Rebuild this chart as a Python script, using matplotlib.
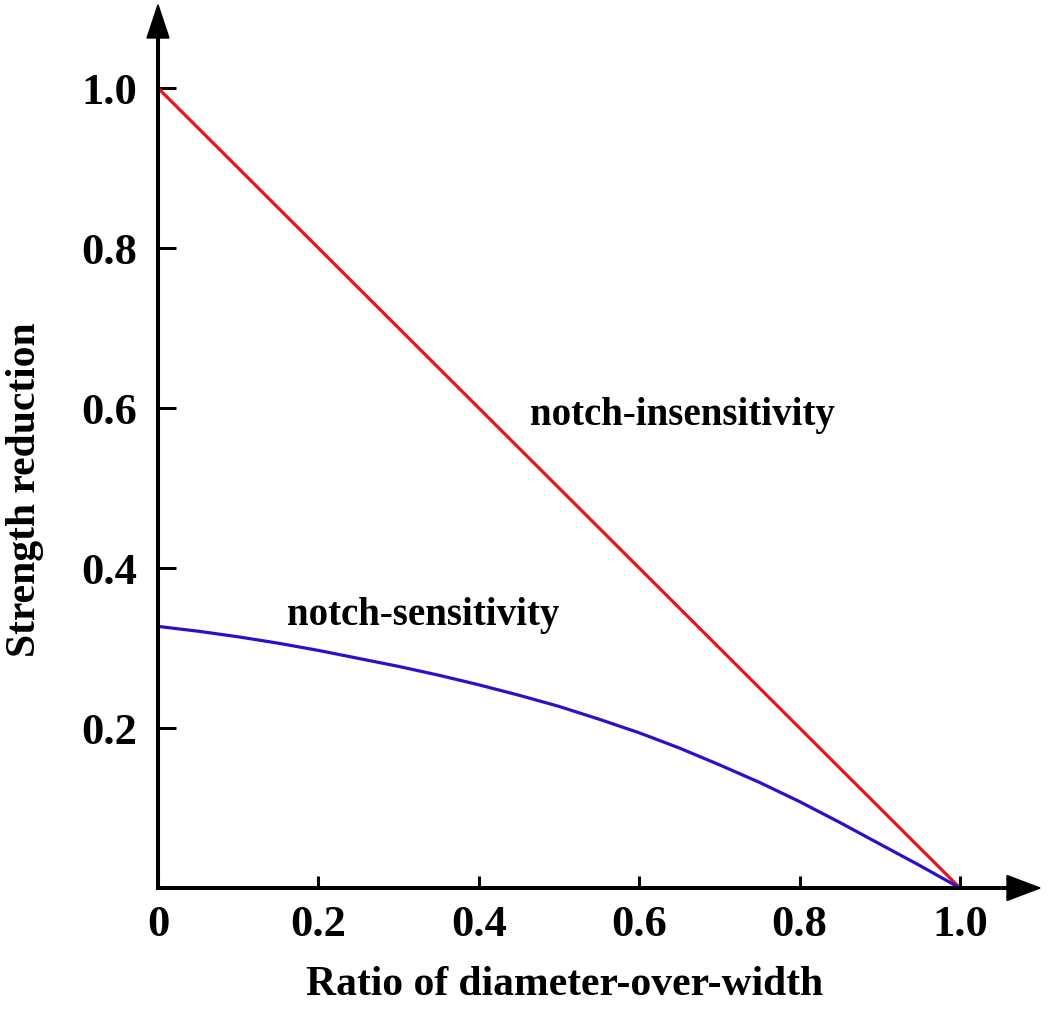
import matplotlib.pyplot as plt
from matplotlib.patches import Polygon

# data
ratio = [0.0, 1.0]
insensitive = [1.0, 0.0]
ratio_s = [0.0, 0.05, 0.1, 0.15, 0.2, 0.25, 0.3, 0.35, 0.4, 0.45, 0.5,
           0.55, 0.6, 0.65, 0.7, 0.75, 0.8, 0.85, 0.9, 0.95, 1.0]
sensitive = [0.327, 0.321, 0.314, 0.306, 0.297, 0.287, 0.277, 0.266, 0.254, 0.241, 0.227,
             0.211, 0.194, 0.175, 0.154, 0.132, 0.108, 0.082, 0.055, 0.028, 0.0]
xticks = [0, 0.2, 0.4, 0.6, 0.8, 1.0]
xticklabels = ["0", "0.2", "0.4", "0.6", "0.8", "1.0"]
yticks = [0.2, 0.4, 0.6, 0.8, 1.0]
yticklabels = ["0.2", "0.4", "0.6", "0.8", "1.0"]

plt.rcParams["font.family"] = ["Liberation Serif", "DejaVu Serif"]
plt.rcParams["font.weight"] = "bold"

fig = plt.figure(figsize=(10.5, 10.13), dpi=100)
ax = fig.add_axes([158 / 1050, 125 / 1013, 849 / 1050, 850 / 1013])

ax.plot(ratio, insensitive, color="#e8141c", lw=2.3, clip_on=False)
ax.plot(ratio_s, sensitive, color="#2a10cc", lw=2.3, clip_on=False)

ax.set_xlim(0, 1.0586)
ax.set_ylim(0, 1.0625)
for s in ["top", "right"]:
    ax.spines[s].set_visible(False)
for s in ["left", "bottom"]:
    ax.spines[s].set_linewidth(2.9)

ax.set_xticks(xticks)
ax.set_xticklabels(xticklabels)
ax.set_yticks(yticks)
ax.set_yticklabels(yticklabels)
ax.tick_params(axis="x", direction="in", length=9, width=2.2, pad=12, labelsize=32)
ax.tick_params(axis="y", direction="in", length=13, width=2.2, pad=15, labelsize=32)
for lab in ax.get_xticklabels() + ax.get_yticklabels():
    lab.set_fontweight("bold")

# arrowheads at the ends of the axes
ax.add_patch(Polygon([[1.0586, 0.0156], [1.0998, 0.0], [1.0586, -0.0156]],
                     closed=True, color="black", clip_on=False))
ax.add_patch(Polygon([[-0.0137, 1.0625], [0.0, 1.104], [0.0137, 1.0625]],
                     closed=True, color="black", clip_on=False))

ax.text(0.464, 0.591, "notch-insensitivity", fontsize=28, fontweight="bold",
        va="center", ha="left")
ax.text(0.161, 0.341, "notch-sensitivity", fontsize=28, fontweight="bold",
        va="center", ha="left")

fig.text(565 / 1050, 1 - 985 / 1013, "Ratio of diameter-over-width", fontsize=30,
         fontweight="bold", ha="center", va="center")
fig.text(25 / 1050, 1 - 490 / 1013, "Strength reduction", fontsize=30,
         fontweight="bold", ha="center", va="center", rotation=90)

fig.savefig("out.png", dpi=100)
